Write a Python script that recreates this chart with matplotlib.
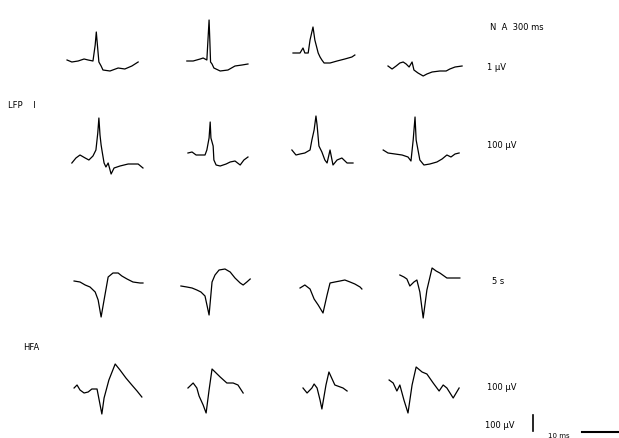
import matplotlib
matplotlib.use("Agg")
import matplotlib.pyplot as plt

# ---- data: time (ms) and amplitude (µV) of each averaged trace ----
t_r1c1 = [-81, -68, -51, -35, -24, -11, -5, -2, 1, 5, 11, 16, 35, 57, 75, 94, 111]
v_r1c1 = [10, 0, 5, 15, 10, 5, 85, 150, 85, 0, -20, -40, -45, -30, -35, -20, 0]
t_r1c2 = [-68, -51, -32, -24, -14, -11, -8, -6, -4, 0, 5, 22, 43, 62, 81, 97]
v_r1c2 = [5, 5, 15, 20, 10, 110, 210, 110, 0, -10, -30, -45, -40, -20, -15, -10]
t_r1c3 = [-73, -62, -54, -46, -41, -32, -27, -19, -14, -5, 0, 5, 11, 27, 46, 67, 86, 94]
v_r1c3 = [45, 45, 45, 70, 45, 45, 110, 175, 110, 45, 25, 10, -5, -5, 5, 15, 25, 35]
t_r1c4 = [-73, -62, -51, -41, -32, -24, -16, -8, -3, 8, 22, 32, 46, 67, 84, 94, 108, 127]
v_r1c4 = [-20, -35, -20, -5, 0, -10, -25, 0, -40, -55, -70, -60, -50, -45, -45, -35, -25, -20]

t_r2c1 = [-68, -57, -46, -32, -22, -11, -3, 2, 5, 8, 11, 14, 19, 24, 30, 38, 46, 62, 84, 111, 124]
v_r2c1 = [-65, -40, -25, -40, -50, -30, 0, 85, 160, 75, 25, -10, -65, -85, -65, -120, -90, -80, -70, -70, -90]
t_r2c2 = [-65, -54, -43, -30, -19, -14, -8, -5, -3, 3, 5, 11, 22, 38, 49, 62, 76, 86, 97]
v_r2c2 = [-15, -10, -25, -25, -25, 0, 60, 140, 60, 20, -50, -75, -80, -70, -60, -55, -75, -50, -35]
t_r2c3 = [-76, -65, -54, -41, -27, -22, -16, -11, -8, -3, 5, 13, 19, 27, 35, 46, 59, 73, 89]
v_r2c3 = [0, -25, -20, -15, 0, 50, 100, 170, 125, 20, -10, -50, -65, 0, -75, -50, -40, -65, -65]
t_r2c4 = [-86, -73, -54, -35, -19, -11, -5, 0, 3, 8, 13, 24, 40, 59, 73, 86, 97, 108, 119]
v_r2c4 = [0, -15, -20, -25, -35, -55, 50, 165, 50, 0, -50, -75, -70, -60, -45, -25, -35, -20, -15]

t_r3c1 = [-62, -46, -32, -19, -5, 3, 11, 19, 30, 43, 57, 67, 81, 97, 116, 124]
v_r3c1 = [5, 0, -15, -25, -50, -90, -175, -90, 25, 45, 45, 30, 15, 0, -5, -5]
t_r3c2 = [-84, -68, -54, -41, -30, -19, -8, 0, 8, 19, 35, 49, 62, 76, 84, 94, 103]
v_r3c2 = [-20, -25, -30, -40, -50, -70, -165, 0, 35, 60, 65, 50, 20, -5, -15, 0, 15]
t_r3c3 = [-54, -41, -27, -16, -5, 8, 19, 27, 40, 54, 67, 81, 94, 108, 113]
v_r3c3 = [-30, -15, -35, -85, -115, -155, -65, -5, 0, 5, 10, 0, -10, -25, -35]
t_r3c4 = [-41, -30, -22, -14, -3, 5, 13, 22, 32, 46, 57, 67, 86, 103, 121]
v_r3c4 = [35, 25, 15, -20, 0, 10, -50, -180, -40, 70, 55, 45, 20, 20, 20]

t_r4c1 = [-62, -54, -46, -35, -24, -14, 0, 13, 19, 32, 49, 62, 78, 94, 108, 121]
v_r4c1 = [0, 15, -10, -25, -20, -5, -5, -130, -50, 40, 120, 90, 50, 15, -15, -45]
t_r4c2 = [-65, -51, -41, -35, -24, -16, -8, 0, 11, 22, 40, 57, 70, 84]
v_r4c2 = [0, 25, 0, -40, -85, -125, -10, 95, 75, 55, 25, 25, 15, -25]
t_r4c3 = [-46, -35, -22, -16, -8, 0, 5, 16, 24, 40, 62, 73]
v_r4c3 = [0, -25, 0, 20, 0, -60, -105, 15, 80, 15, 0, -15]
t_r4c4 = [-70, -59, -49, -41, -30, -19, -8, 3, 19, 32, 49, 65, 76, 86, 103, 119]
v_r4c4 = [40, 25, -15, 15, -60, -125, 15, 105, 80, 70, 25, -15, 15, 0, -50, 0]

traces = [
    [(t_r1c1, v_r1c1), (t_r1c2, v_r1c2), (t_r1c3, v_r1c3), (t_r1c4, v_r1c4)],
    [(t_r2c1, v_r2c1), (t_r2c2, v_r2c2), (t_r2c3, v_r2c3), (t_r2c4, v_r2c4)],
    [(t_r3c1, v_r3c1), (t_r3c2, v_r3c2), (t_r3c3, v_r3c3), (t_r3c4, v_r3c4)],
    [(t_r4c1, v_r4c1), (t_r4c2, v_r4c2), (t_r4c3, v_r4c3), (t_r4c4, v_r4c4)],
]

right_labels = ["1 µV", "100 µV", "5 s", "100 µV"]
top_label = "N  A  300 ms"
left_labels = ["LFP    I", "HFA"]
scale_t = 100   # ms
scale_v = 80    # µV
scale_label_v = "100 µV"
scale_label_t = "10 ms"

# ---- layout (pixels) ----
W, H = 619, 438
fig = plt.figure(figsize=(W / 100, H / 100), dpi=100)
fig.patch.set_facecolor("white")

ms_per_px = 2.7
uv_per_px = 5.0
xlim = (-100, 150)
col_left = [60, 175, 283, 378]
rows = [  # (top px, bottom px, baseline px)
    (10, 90, 62),
    (95, 185, 150),
    (255, 335, 282),
    (345, 425, 388),
]
width_px = (xlim[1] - xlim[0]) / ms_per_px

for r, (top, bot, base) in enumerate(rows):
    ylim = (-(bot - base) * uv_per_px, (base - top) * uv_per_px)
    for c, L in enumerate(col_left):
        ax = fig.add_axes([L / W, 1 - bot / H, width_px / W, (bot - top) / H])
        t, v = traces[r][c]
        ax.plot(t, v, color="black", lw=0.9)
        ax.set_xlim(*xlim)
        ax.set_ylim(*ylim)
        ax.axis("off")

fs = 6
fig.text(490 / W, 1 - 28 / H, top_label, fontsize=fs, va="center", ha="left")
label_y = [68, 145, 282, 387]
label_x = [487, 487, 492, 487]
for lab, x, y in zip(right_labels, label_x, label_y):
    fig.text(x / W, 1 - y / H, lab, fontsize=fs, va="center", ha="left")
fig.text(8 / W, 1 - 105 / H, left_labels[0], fontsize=fs, va="center", ha="left")
fig.text(23 / W, 1 - 347 / H, left_labels[1], fontsize=fs, va="center", ha="left")

# scale bar
sax = fig.add_axes([480 / W, 0, (W - 480) / W, 33 / H])
sax.set_xlim(0, (W - 480) * ms_per_px)
sax.set_ylim(0, 33 * uv_per_px)
sax.axis("off")
x0 = 53 * ms_per_px
sax.plot([x0, x0], [35, 35 + scale_v], color="black", lw=1.2)
x1 = (582 - 480) * ms_per_px
sax.plot([x1, x1 + scale_t], [30, 30], color="black", lw=1.5, clip_on=False)
fig.text(485 / W, 1 - 425 / H, scale_label_v, fontsize=fs, va="center", ha="left")
fig.text(548 / W, 1 - 436 / H, scale_label_t, fontsize=fs - 1, va="center", ha="left")

fig.savefig("out.png", dpi=100, facecolor="white")
